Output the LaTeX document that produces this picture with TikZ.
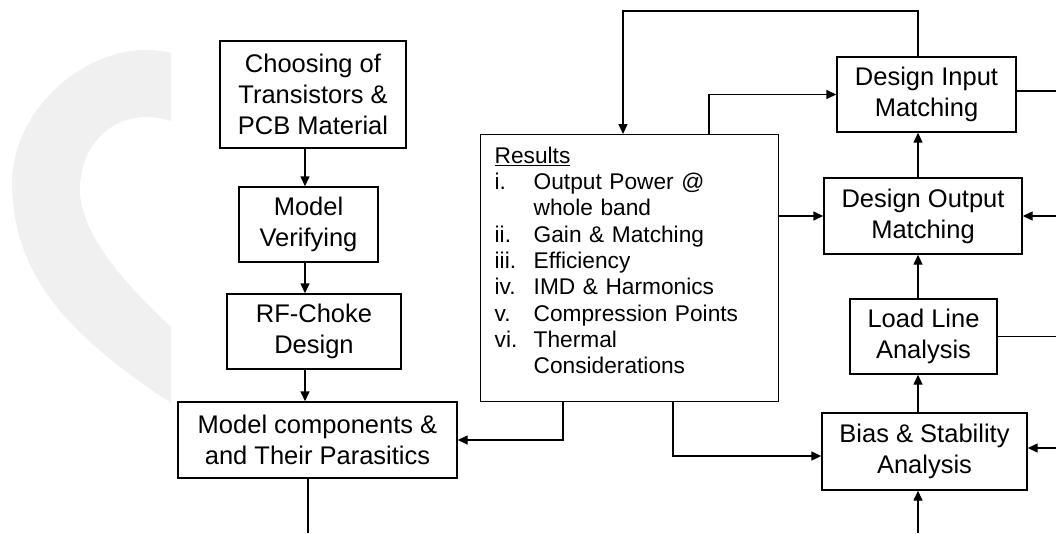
\documentclass[tikz,border=0pt]{standalone}
\usepackage{fontspec}
\setmainfont{Liberation Sans}
\usetikzlibrary{arrows.meta}

\tikzset{
    box/.style={draw, line width=1.4pt, inner sep=0pt, align=center,
        font=\fontsize{25.5}{31}\selectfont},
    arr/.style={-{Triangle[length=10pt,width=9pt]}, line width=1.4pt},
    wire/.style={line width=1.4pt},
}

\begin{document}
\begin{tikzpicture}[x=1pt,y=-1pt]
        \useasboundingbox (0,0) rectangle (1056,533);

        % watermark
        \fill[black!6] (171,53) .. controls (100,35) and (15,100) .. (12,180)
            .. controls (12,270) and (60,330) .. (171,403) -- (171,327)
            .. controls (110,270) and (78,225) .. (80,185)
            .. controls (82,140) and (120,105) .. (171,121) -- cycle;

        % left column
        \node[box, minimum width=186, minimum height=107] (choose) at (313,94.5)
            {Choosing of\\Transistors \&\\PCB Material};
        \node[box, minimum width=139, minimum height=75] (verify) at (308.5,224.5)
            {Model\\Verifying};
        \node[box, minimum width=174, minimum height=75] (choke) at (314,331.5)
            {RF-Choke\\Design};
        \node[box, minimum width=279, minimum height=76] (parasit) at (317.5,440)
            {Model components \&\\and Their Parasitics};

        % results
        \node[box, anchor=north west, minimum width=298, minimum height=267,
            text width=270, align=left, font=\fontsize{22.7}{26.3}\selectfont]
            (results) at (480,134)
            {\begin{tabular}{@{}p{39pt}@{}l@{}}
                \multicolumn{2}{@{}l@{}}{\underline{Results}}\\
                i. & Output Power @\\
                   & whole band\\
                ii. & Gain \& Matching\\
                iii. & Efficiency\\
                iv. & IMD \& Harmonics\\
                v. & Compression Points\\
                vi. & Thermal\\
                    & Considerations\\[10pt]
            \end{tabular}};

        % right column
        \node[box, minimum width=179, minimum height=75] (inmatch) at (926.5,94.5)
            {Design Input\\Matching};
        \node[box, minimum width=198, minimum height=76] (outmatch) at (923,216)
            {Design Output\\Matching};
        \node[box, minimum width=147, minimum height=75] (loadline) at (923.5,336.5)
            {Load Line\\Analysis};
        \node[box, minimum width=205, minimum height=77] (bias) at (924.5,451.5)
            {Bias \& Stability\\Analysis};

        \coordinate (lcol) at (305,0);
        \coordinate (rcol) at (918,0);
        \coordinate (loop) at (623,11);
        \coordinate (rup) at (709,0);
        \coordinate (rdl) at (563,0);
        \coordinate (rdr) at (673,456);
        \coordinate (redge) at (1056,0);
        \coordinate (lbot) at (308,533);
        \coordinate (rbot) at (918,533);

        \draw[arr] (choose.south -| lcol) -- (verify.north -| lcol);
        \draw[arr] (verify.south -| lcol) -- (choke.north -| lcol);
        \draw[arr] (choke.south -| lcol) -- (parasit.north -| lcol);
        \draw[wire] (parasit.south -| lbot) -- (lbot);

        \draw[arr] (rbot) -- (bias.south -| rbot);
        \draw[arr] (bias.north -| rcol) -- (loadline.south -| rcol);
        \draw[arr] (loadline.north -| rcol) -- (outmatch.south -| rcol);
        \draw[arr] (outmatch.north -| rcol) -- (inmatch.south -| rcol);

        \draw[arr] (inmatch.north -| rcol) |- (loop) -- (loop |- results.north);
        \draw[arr] (results.north -| rup) |- (inmatch.west);
        \draw[arr] (results.east |- outmatch.west) -- (outmatch.west);
        \draw[arr] (results.south -| rdl) |- (parasit.east);
        \draw[arr] (results.south -| rdr) |- (bias.west |- rdr);

        \draw[wire] ([yshift=3.5pt]inmatch.east) -- ([yshift=3.5pt]inmatch.east -| redge);
        \draw[arr] (outmatch.east -| redge) -- (outmatch.east);
        \draw[wire] (loadline.east) -- (loadline.east -| redge);
        \draw[arr] ([yshift=3.5pt]bias.east -| redge) -- ([yshift=3.5pt]bias.east);

    \end{tikzpicture}
\end{document}
